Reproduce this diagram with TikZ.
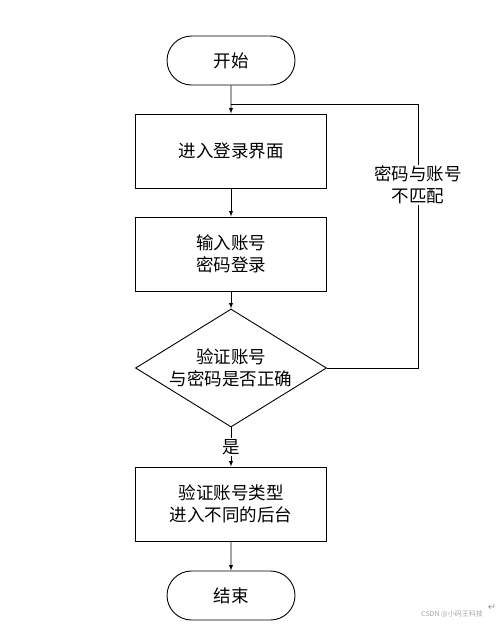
\documentclass[tikz,border=0pt]{standalone}
\usepackage{fontspec}
\setmainfont{Noto Sans CJK SC}
\newfontfamily\symfont{DejaVu Sans}
\usetikzlibrary{shapes.geometric,shapes.misc}
\tikzset{>=latex}

\begin{document}
\begin{tikzpicture}[x=1pt,y=-1pt,line width=0.9pt,
	every node/.style={font=\fontsize{17.5}{22}\selectfont},
	terminal/.style={draw,rounded rectangle,minimum width=128pt,minimum height=49pt,inner sep=0pt},
	process/.style={draw,rectangle,minimum width=191pt,minimum height=74pt,align=center,inner sep=0pt},
	decision/.style={draw,diamond,aspect=1.62,minimum width=191pt,minimum height=118pt,inner sep=0pt,align=center}]
		\useasboundingbox (0,0) rectangle (500,629);
		\node[terminal] (start) at (231,60.5) {开始};
		\node[process] (login) at (231,151) {进入登录界面};
		\node[process] (input) at (231,254) {输入账号\\密码登录};
		\node[decision] (check) at (231,368) {验证账号\\与密码是否正确};
		\node[process] (type) at (231,504) {验证账号类型\\进入不同的后台};
		\node[terminal] (end) at (231,595.5) {结束};
		\coordinate (join) at (231,104);
		\coordinate (back) at (418,104);
		\draw[->] (start) -- (login);
		\draw[->] (login) -- (input);
		\draw[->] (input) -- (check);
		\draw[->] (check) -- node[fill=white,inner sep=1pt] (yes) {是} (type);
		\draw[->] (type) -- (end);
		\draw (check.east) -- (check.east -| back) -- (back) -- (join);
		\node[fill=white,align=center,inner sep=1pt] (mismatch) at (418,185) {密码与账号\\不匹配};
		% watermark
		\node[font=\fontsize{7}{8}\selectfont,text=gray!70] (mark) at (452,614) {CSDN @小码王科技};
		\node[font=\symfont\fontsize{10}{10}\selectfont,text=gray!80] (ret) at (492,607) {↵};
	\end{tikzpicture}
\end{document}
